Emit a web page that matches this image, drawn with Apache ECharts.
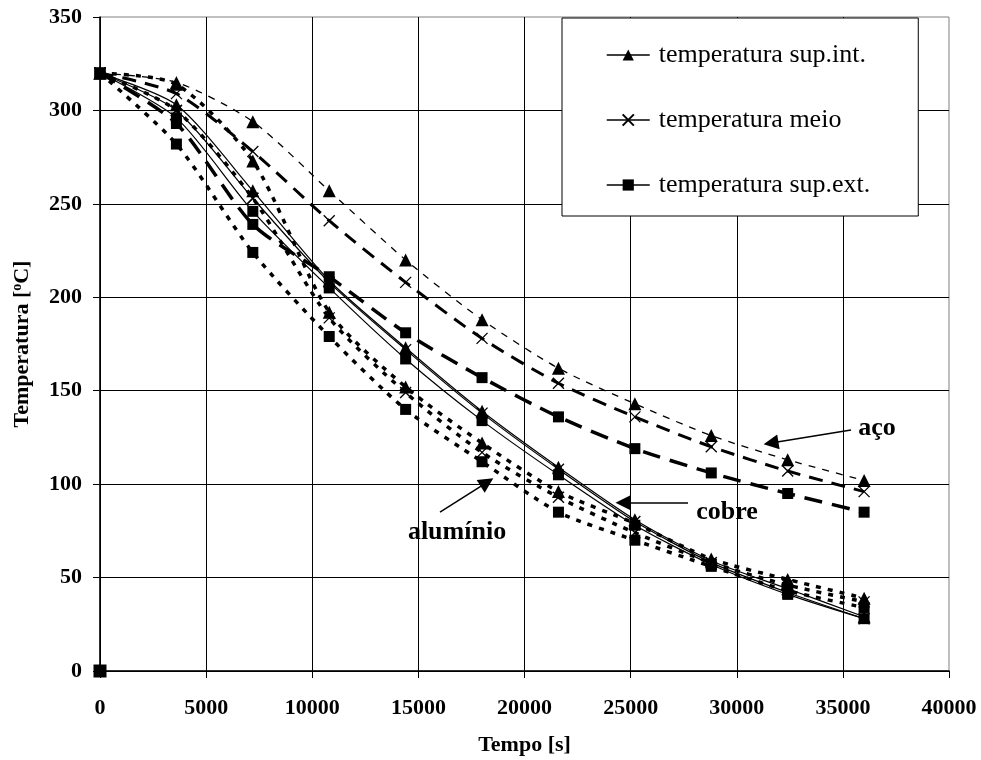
<!DOCTYPE html>
<html>
<head>
<meta charset="utf-8">
<script src="https://cdn.jsdelivr.net/npm/echarts@6/dist/echarts.min.js"></script>
<style>
  html, body { margin: 0; padding: 0; background: #fff; }
  #chart { width: 981px; height: 760px; }
</style>
</head>
<body>
<div id="chart"></div>
<script>
// tempos das leituras [s]
const tempos = [0, 3600, 7200, 10800, 14400, 18000, 21600, 25200, 28800, 32400, 36000];

// aço
const acoInt = [320, 315, 294, 257, 220, 188, 162, 143, 126, 113, 102];
const acoMeio = [320, 309, 278, 241, 208, 178, 154, 136, 120, 107, 96];
const acoExt = [320, 293, 239, 211, 181, 157, 136, 119, 106, 95, 85];

// cobre
const cobreInt = [320, 303, 257, 209, 173, 139, 109, 81, 59, 44, 29];
const cobreMeio = [320, 300, 253, 208, 172, 138, 108, 80, 58, 42, 28];
const cobreExt = [320, 296, 246, 205, 167, 134, 105, 78, 57, 41, 28];

// alumínio
const alumInt = [320, 314, 273, 192, 152, 122, 96, 79, 60, 49, 39];
const alumMeio = [320, 300, 253, 189, 149, 117, 93, 74, 58, 46, 37];
const alumExt = [320, 282, 224, 179, 140, 112, 85, 70, 56, 43, 34];

// ponto solto na origem
const pontoOrigem = [[0, 0]];

const nomes = ["temperatura sup.int.", "temperatura meio", "temperatura sup.ext."];

// anotações: texto, posição do texto, início e fim da seta (coordenadas dos dados)
const anotacoes = [
  { texto: "aço", em: [36608, 130], de: [35383, 129], para: [31614, 122] },
  { texto: "cobre", em: [29541, 85], de: [27703, 90], para: [24641, 90] },
  { texto: "alumínio", em: [16820, 74], de: [16019, 85], para: [18233, 101] },
];

const fonte = "Liberation Serif";
const cruz = "path://M0,0L10,10M10,0L0,10";

const simbolos = [
  { symbol: "triangle", symbolSize: 13, itemStyle: { color: "#000" } },
  { symbol: cruz, symbolSize: 11, itemStyle: { color: "transparent", borderColor: "#000", borderWidth: 1.3 } },
  { symbol: "rect", symbolSize: 11, itemStyle: { color: "#000" } },
];

function serie(pos, valores, linha) {
  return {
    name: nomes[pos],
    type: "line",
    smooth: 0.25,
    data: tempos.map((t, i) => [t, valores[i]]),
    symbol: simbolos[pos].symbol,
    symbolSize: simbolos[pos].symbolSize,
    itemStyle: simbolos[pos].itemStyle,
    lineStyle: Object.assign({ color: "#000" }, linha),
    z: 3,
  };
}

const tracoAluminio = { width: 3.5, type: [5, 7] };
const tracoCobre = { width: 1.2, type: "solid" };

const chart = echarts.init(document.getElementById("chart"));

chart.setOption({
  animation: false,
  backgroundColor: "#fff",
  grid: {
    left: 100, right: 32, top: 17, bottom: 89,
    outerBoundsMode: "none",
    containLabel: false,
    show: true, borderColor: "#808080", borderWidth: 1,
  },
  legend: {
    orient: "vertical",
    left: 562, top: 18,
    itemWidth: 43, itemHeight: 14, itemGap: 39,
    padding: [24, 48, 18, 44],
    backgroundColor: "#fff",
    borderColor: "#000", borderWidth: 1,
    selectedMode: false,
    textStyle: { fontFamily: fonte, fontSize: 26, color: "#000", padding: [0, 0, 0, 4] },
    lineStyle: { type: "solid", width: 1.5, color: "#000" },
    data: nomes,
  },
  xAxis: {
    type: "value",
    min: 0, max: 40000, interval: 5000,
    name: "Tempo [s]",
    nameLocation: "middle",
    nameGap: 63,
    nameTextStyle: { fontFamily: fonte, fontSize: 22, fontWeight: "bold", color: "#000" },
    axisLine: { show: true, lineStyle: { color: "#000", width: 1.5 } },
    axisTick: { show: true, length: 7, lineStyle: { color: "#000" } },
    axisLabel: {
      fontFamily: fonte, fontSize: 22, fontWeight: "bold", color: "#000", margin: 26,
      formatter: (v) => String(v),
    },
    splitLine: { show: true, showMaxLine: false, lineStyle: { color: "#000", width: 1 } },
  },
  yAxis: {
    type: "value",
    min: 0, max: 350, interval: 50,
    name: "Temperatura [{sup|o}C]",
    nameLocation: "middle",
    nameGap: 66,
    nameTextStyle: {
      fontFamily: fonte, fontSize: 22, fontWeight: "bold", color: "#000",
      rich: { sup: { fontFamily: fonte, fontSize: 14, fontWeight: "bold", color: "#000", padding: [0, 0, 10, 0] } },
    },
    axisLine: { show: true, lineStyle: { color: "#000", width: 1.5 } },
    axisTick: { show: true, length: 7, lineStyle: { color: "#000" } },
    axisLabel: { fontFamily: fonte, fontSize: 22, fontWeight: "bold", color: "#000", margin: 18 },
    splitLine: { show: true, showMaxLine: false, lineStyle: { color: "#000", width: 1 } },
  },
  series: [
    serie(0, alumInt, tracoAluminio),
    serie(1, alumMeio, tracoAluminio),
    serie(2, alumExt, tracoAluminio),
    serie(0, cobreInt, tracoCobre),
    serie(1, cobreMeio, tracoCobre),
    serie(2, cobreExt, tracoCobre),
    serie(0, acoInt, { width: 1.3, type: [7, 7] }),
    serie(1, acoMeio, { width: 3, type: [14, 9] }),
    serie(2, acoExt, { width: 3.5, type: [18, 10] }),
    {
      name: "origem",
      type: "scatter",
      data: pontoOrigem,
      symbol: "rect",
      symbolSize: 13,
      clip: false,
      itemStyle: { color: "#000", opacity: 1 },
      z: 4,
    },
    {
      name: "anotacoes",
      type: "scatter",
      data: [],
      silent: true,
      markLine: {
        silent: true,
        symbol: ["none", "triangle"],
        symbolSize: 15,
        label: { show: false },
        lineStyle: { color: "#000", width: 1.5, type: "solid" },
        itemStyle: { color: "#000" },
        data: anotacoes.map((a) => [{ coord: a.de }, { coord: a.para }]),
      },
      markPoint: {
        silent: true,
        symbol: "circle",
        symbolSize: 1,
        itemStyle: { color: "transparent" },
        label: {
          show: true,
          position: "inside",
          fontFamily: fonte, fontSize: 26, fontWeight: "bold", color: "#000",
          formatter: (p) => p.name,
        },
        data: anotacoes.map((a) => ({ name: a.texto, coord: a.em })),
      },
    },
  ],
});

window.addEventListener("resize", () => {
  chart.resize();
});
</script>
</body>
</html>
